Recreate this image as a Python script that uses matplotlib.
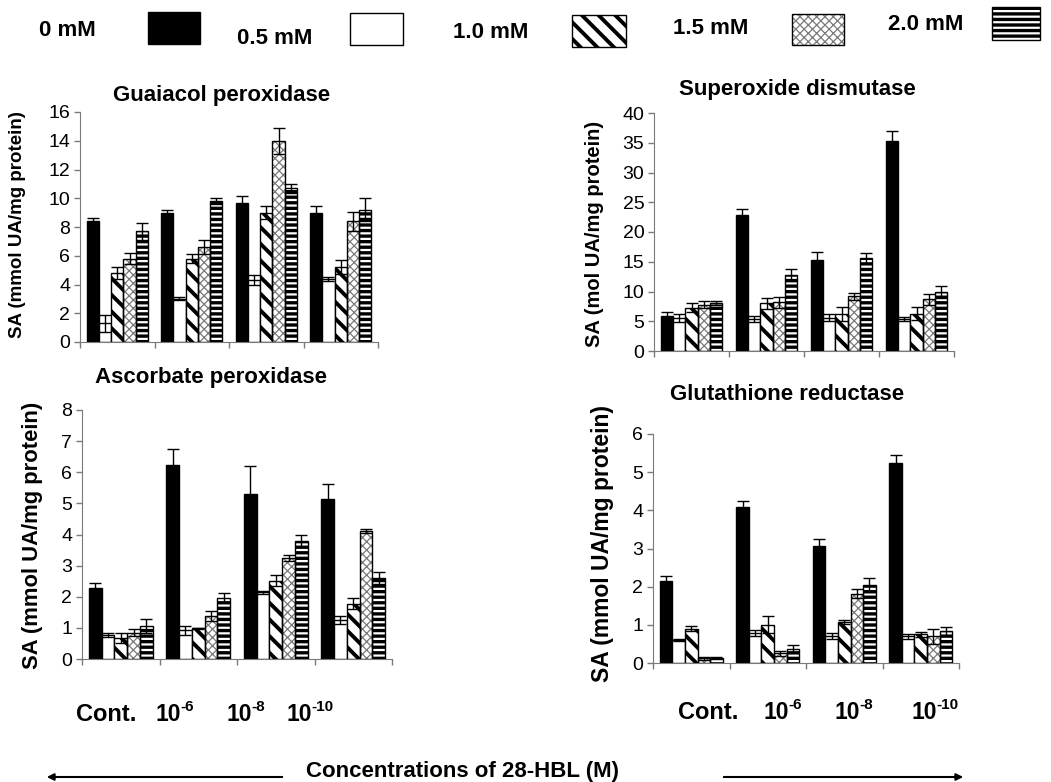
import matplotlib
matplotlib.use("Agg")
import matplotlib.pyplot as plt
from matplotlib.patches import Rectangle, FancyArrowPatch

plt.rcParams["font.family"] = ["Liberation Sans", "DejaVu Sans"]

W, H = 1051, 782

# -------- DATA --------
groups = ["Cont.", "10-6", "10-8", "10-10"]
doses = ["0 mM", "0.5 mM", "1.0 mM", "1.5 mM", "2.0 mM"]

# rows = dose (0, 0.5, 1.0, 1.5, 2.0 mM), columns = groups
gpx_vals = [[8.4, 9.0, 9.7, 9.0], [1.3, 3.0, 4.3, 4.4], [4.8, 5.8, 9.0, 5.2],
            [5.8, 6.6, 14.0, 8.4], [7.7, 9.8, 10.7, 9.2]]
gpx_err = [[0.25, 0.2, 0.45, 0.45], [0.6, 0.1, 0.35, 0.15], [0.4, 0.3, 0.45, 0.5],
           [0.4, 0.5, 0.9, 0.65], [0.6, 0.2, 0.3, 0.8]]

sod_vals = [[5.8, 22.9, 15.3, 35.3], [5.6, 5.4, 5.6, 5.4], [7.3, 8.0, 6.2, 6.3],
            [7.8, 8.2, 9.2, 8.7], [8.1, 12.8, 15.6, 9.9]]
sod_err = [[0.7, 0.9, 1.4, 1.7], [0.7, 0.5, 0.6, 0.3], [0.8, 0.9, 1.2, 1.1],
           [0.6, 0.9, 0.6, 0.9], [0.3, 1.0, 0.8, 1.0]]

apx_vals = [[2.27, 6.24, 5.29, 5.13], [0.78, 0.92, 2.15, 1.25], [0.68, 0.98, 2.52, 1.78],
            [0.85, 1.38, 3.25, 4.12], [1.07, 1.97, 3.78, 2.6]]
apx_err = [[0.16, 0.5, 0.92, 0.5], [0.07, 0.15, 0.05, 0.12], [0.15, 0.02, 0.18, 0.18],
           [0.12, 0.15, 0.1, 0.06], [0.23, 0.15, 0.19, 0.2]]

gr_vals = [[2.15, 4.1, 3.07, 5.23], [0.6, 0.78, 0.7, 0.7], [0.9, 1.0, 1.07, 0.75],
           [0.12, 0.25, 1.82, 0.7], [0.13, 0.37, 2.05, 0.83]]
gr_err = [[0.13, 0.15, 0.19, 0.23], [0.02, 0.08, 0.08, 0.06], [0.07, 0.22, 0.05, 0.07],
          [0.05, 0.06, 0.13, 0.2], [0.02, 0.1, 0.18, 0.11]]

# fill, hatch, hatch colour, hatch linewidth per dose
STYLES = [
    ("black", "", "black", 1.0),
    ("white", "", "black", 1.0),
    ("white", "\\\\", "black", 2.8),
    ("white", "xxxx", "#7a7a7a", 0.9),
    ("white", "---", "black", 2.4),
]
BAR_W = 0.165
AX_GRAY = "#7a7a7a"


def px_rect(x0, x1, y0, y1):
    # pixel box (top-left origin) -> figure fraction [l, b, w, h]
    return [x0 / W, 1 - y1 / H, (x1 - x0) / W, (y1 - y0) / H]


def styled_bar(ax, x, h, k):
    fill, hatch, hcol, hlw = STYLES[k]
    with plt.rc_context({"hatch.linewidth": hlw}):
        bars = ax.bar(x, h, width=BAR_W, color=fill, edgecolor=hcol if hatch else "black",
                      hatch=hatch or None, linewidth=0 if hatch else 1.0, zorder=2)
    for b in bars:
        if hasattr(b, "set_hatch_linewidth"):
            b.set_hatch_linewidth(hlw)
    if hatch:
        ax.bar(x, h, width=BAR_W, color="none", edgecolor="black", linewidth=1.0, zorder=3)


def draw_panel(box, vals, errs, ymax, ystep):
    ax = fig.add_axes(px_rect(*box))
    xs = range(len(groups))
    for k in range(len(doses)):
        pos = [g + (k - 2) * BAR_W for g in xs]
        styled_bar(ax, pos, vals[k], k)
        ax.errorbar(pos, vals[k], yerr=errs[k], fmt="none", ecolor="black",
                    elinewidth=1.0, capsize=4, capthick=1.0, zorder=4)
    ax.set_xlim(-0.5, len(groups) - 0.5)
    ax.set_ylim(0, ymax)
    ax.set_yticks([i * ystep for i in range(int(round(ymax / ystep)) + 1)])
    ax.set_xticks([g - 0.5 for g in range(len(groups) + 1)])
    ax.set_xticklabels([])
    for s in ("top", "right"):
        ax.spines[s].set_visible(False)
    for s in ("left", "bottom"):
        ax.spines[s].set_color(AX_GRAY)
    ax.tick_params(axis="both", color=AX_GRAY, length=4, width=1, direction="out")
    ax.tick_params(axis="y", labelsize=14, pad=3)
    return ax


fig = plt.figure(figsize=(W / 100, H / 100), dpi=100)

draw_panel((80, 378, 112, 342), gpx_vals, gpx_err, 16, 2)
draw_panel((654, 954, 113, 351), sod_vals, sod_err, 40, 5)
draw_panel((82, 392, 410, 659), apx_vals, apx_err, 8, 1)
draw_panel((653, 959, 434, 663), gr_vals, gr_err, 6, 1)


def ftext(x, y, s, ha="center", va="center", **kw):
    fig.text(x / W, 1 - y / H, s, ha=ha, va=va, **kw)


# titles
ftext(222, 95, "Guaiacol peroxidase", fontsize=16, fontweight="bold")
ftext(797, 89, "Superoxide dismutase", fontsize=16, fontweight="bold")
ftext(211, 377, "Ascorbate peroxidase", fontsize=16, fontweight="bold")
ftext(787, 394, "Glutathione reductase", fontsize=16, fontweight="bold")

# y labels
ftext(18, 225, "SA (mmol UA/mg protein)", fontsize=13.5, fontweight="bold", rotation=90)
ftext(595, 234, "SA (mol UA/mg protein)", fontsize=14.5, fontweight="bold", rotation=90)
ftext(33, 535, "SA (mmol UA/mg protein)", fontsize=15.8, fontweight="bold", rotation=90)
ftext(602, 544, "SA (mmol UA/mg protein)", fontsize=16.5, fontweight="bold", rotation=90)


# group labels under the bottom panels: "Cont." centred, powers of ten split at base/exponent
def group_label(lab, x, base_y):
    if lab.startswith("10"):
        ftext(x, base_y, "10", ha="right", va="baseline", fontsize=16.5, fontweight="bold")
        ftext(x - 1, base_y - 10, lab[2:], ha="left", va="baseline", fontsize=11, fontweight="bold")
    else:
        ftext(x, base_y, lab, va="baseline", fontsize=17, fontweight="bold")


left_x = [106, 181, 252, 312]
right_x = [708, 789, 860, 937]
for lab, xl, xr in zip(groups, left_x, right_x):
    group_label(lab, xl, 721)
    group_label(lab, xr, 719)

# legend across the top
legend_text_pos = [(67, 30), (275, 38), (491, 33), (711, 29), (926, 25)]
legend_boxes = [(148, 200, 12, 44), (350, 403, 13, 45), (572, 626, 15, 47),
                (792, 844, 14, 45), (992, 1040, 7, 40)]
for k, (lab, (tx, ty), (x0, x1, y0, y1)) in enumerate(zip(doses, legend_text_pos, legend_boxes)):
    ftext(tx, ty, lab, fontsize=16, fontweight="bold")
    fill, hatch, hcol, hlw = STYLES[k]
    l, b, w, h = px_rect(x0, x1, y0, y1)
    with plt.rc_context({"hatch.linewidth": hlw}):
        r = Rectangle((l, b), w, h, transform=fig.transFigure, facecolor=fill,
                      edgecolor=hcol if hatch else "black", hatch=hatch or None,
                      linewidth=0 if hatch else 1.0)
    if hasattr(r, "set_hatch_linewidth"):
        r.set_hatch_linewidth(hlw)
    fig.patches.append(r)
    if hatch:
        fig.patches.append(Rectangle((l, b), w, h, transform=fig.transFigure,
                                     facecolor="none", edgecolor="black", linewidth=1.0))

# bottom caption with arrows
ftext(462, 772, "Concentrations of 28-HBL (M)", fontsize=16, fontweight="bold")
for x_from, x_to in [(285, 44), (721, 966)]:
    fig.patches.append(FancyArrowPatch((x_from / W, 1 - 777 / H), (x_to / W, 1 - 777 / H),
                                       transform=fig.transFigure, arrowstyle="-|>",
                                       mutation_scale=10, linewidth=1.5, color="black"))

fig.savefig("out.png", dpi=100)
